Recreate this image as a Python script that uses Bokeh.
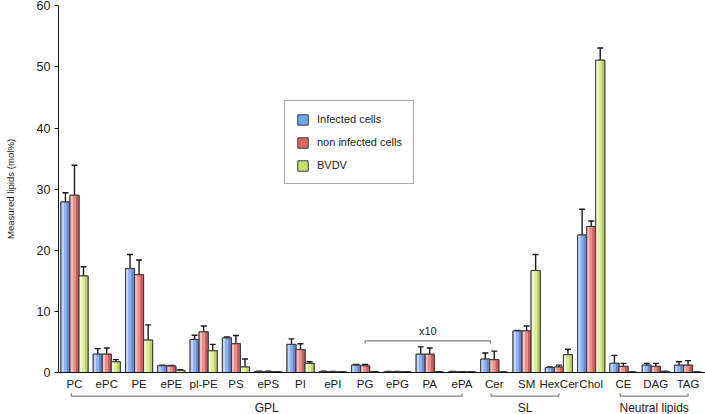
from bokeh.plotting import figure
from bokeh.models import (Range1d, FixedTicker, Whisker, TeeHead, ColumnDataSource,
                          Legend, LegendItem)
from bokeh.layouts import column
from bokeh.embed import file_html
from bokeh.resources import INLINE
from bokeh.core.properties import value

# ---------------- data ----------------
categories = ["PC", "ePC", "PE", "ePE", "pl-PE", "PS", "ePS", "PI", "ePI", "PG",
              "ePG", "PA", "ePA", "Cer", "SM", "HexCer", "Chol", "CE", "DAG", "TAG"]
infected = [27.9, 3.0, 17.0, 1.1, 5.4, 5.65, 0.15, 4.6, 0.15, 1.2,
            0.12, 3.0, 0.12, 2.2, 6.8, 0.8, 22.5, 1.5, 1.2, 1.2]
infected_err = [1.5, 0.9, 2.3, 0.1, 0.7, 0.15, 0.05, 0.9, 0.05, 0.1,
                0.05, 1.2, 0.05, 1.0, 0.1, 0.1, 4.2, 1.3, 0.3, 0.55]
non_infected = [29.0, 3.0, 16.0, 1.05, 6.65, 4.7, 0.15, 3.75, 0.12, 1.1,
                0.12, 3.0, 0.1, 2.1, 6.8, 0.9, 23.9, 1.0, 1.0, 1.2]
non_infected_err = [4.9, 1.0, 2.4, 0.1, 0.95, 1.35, 0.05, 0.95, 0.05, 0.2,
                    0.05, 1.0, 0.05, 1.4, 0.8, 0.3, 0.9, 0.5, 0.5, 0.75]
bvdv = [15.8, 1.75, 5.3, 0.35, 3.55, 0.9, 0.1, 1.5, 0.1, 0.1,
        0.1, 0.1, 0.1, 0.05, 16.7, 2.9, 51.1, 0.05, 0.15, 0.05]
bvdv_err = [1.5, 0.35, 2.5, 0.1, 1.05, 1.3, 0.03, 0.25, 0.03, 0.03,
            0.03, 0.03, 0.03, 0.02, 2.6, 0.9, 2.0, 0.02, 0.05, 0.02]
series_names = ["Infected cells", "non infected cells", "BVDV"]
y_ticks = [0, 10, 20, 30, 40, 50, 60]
groups = [("GPL", "PC", "ePA"), ("SL", "Cer", "HexCer"), ("Neutral lipids", "CE", "TAG")]
x10_span = ("PG", "Cer")
x10_label = "x10"
y_title = "Measured lipids (mol%)"

# ---------------- style ----------------
FONT = "Liberation Sans"
TXT = "#1a1a1a"
legend_colors = ["#6da7ee", "#e26464", "#c3df6c"]
strip_colors = [["#c3d5f6", "#92b1ea", "#6389d6"],
                ["#f5bcbc", "#e58f8f", "#cc5a5a"],
                ["#f3f9cc", "#dcee9c", "#b9d266"]]
OUTLINE = "#3a3a3a"
BW = 0.28

values = [infected, non_infected, bvdv]
errors = [infected_err, non_infected_err, bvdv_err]
idx = list(range(len(categories)))
xr = Range1d(-0.495, 19.54)

p = figure(width=705, height=392, x_range=xr, y_range=Range1d(0, 60.05),
           min_border_left=58, min_border_right=0, min_border_top=5, min_border_bottom=20,
           toolbar_location=None, output_backend="svg")
p.grid.visible = False
p.outline_line_color = None

# y axis
p.yaxis.ticker = FixedTicker(ticks=y_ticks)
p.yaxis.minor_tick_line_color = None
p.yaxis.major_tick_out = 4
p.yaxis.major_tick_in = 0
p.yaxis.major_label_standoff = 4
p.yaxis.axis_line_color = "#111111"
p.yaxis.major_tick_line_color = "#111111"
p.yaxis.major_label_text_font = FONT
p.yaxis.major_label_text_font_size = "12.5px"
p.yaxis.major_label_text_color = TXT
p.yaxis.axis_label = y_title
p.yaxis.axis_label_text_font = FONT
p.yaxis.axis_label_text_font_size = "9.6px"
p.yaxis.axis_label_text_font_style = "normal"
p.yaxis.axis_label_text_color = TXT
p.yaxis.axis_label_standoff = 18

# x axis
p.xaxis.ticker = FixedTicker(ticks=idx)
p.xaxis.major_label_overrides = {i: c for i, c in zip(idx, categories)}
p.xaxis.major_tick_out = 0
p.xaxis.major_tick_in = 0
p.xaxis.minor_tick_line_color = None
p.xaxis.major_label_standoff = 5
p.xaxis.axis_line_color = "#111111"
p.xaxis.major_label_text_font = FONT
p.xaxis.major_label_text_font_size = "11.5px"
p.xaxis.major_label_text_color = TXT

legend_items = []
offsets = [-BW, 0.0, BW]
for k in range(3):
    xs = [i + offsets[k] for i in idx]
    src = ColumnDataSource(dict(x=xs, top=values[k],
                                upper=[v + e for v, e in zip(values[k], errors[k])]))
    main = p.vbar(x="x", top="top", bottom=0, width=BW, source=src,
                  fill_color=legend_colors[k], line_color=OUTLINE, line_width=1)
    legend_items.append(LegendItem(label=series_names[k], renderers=[main]))
    for s in range(3):
        ssrc = ColumnDataSource(dict(x=[x + (s - 1) * BW / 3 for x in xs], top=values[k]))
        p.vbar(x="x", top="top", bottom=0, width=BW / 3 + 0.004, source=ssrc,
               fill_color=strip_colors[k][s], line_color=None)
    p.vbar(x="x", top="top", bottom=0, width=BW, source=src,
           fill_color=None, line_color=OUTLINE, line_width=1)
    w = Whisker(source=src, base="x", upper="upper", lower="top", dimension="height",
                line_color=TXT, line_width=1.4,
                upper_head=TeeHead(size=6, line_color=TXT, line_width=1.4),
                lower_head=None)
    p.add_layout(w)

# x10 bracket
a = categories.index(x10_span[0])
b = categories.index(x10_span[1]) - 0.12
p.multi_line(xs=[[a, a, b, b]], ys=[[4.74, 5.17, 5.17, 4.74]], line_color="#808080", line_width=1.2)
p.text(x=[(a + b) / 2], y=[6.76], text=[x10_label], text_font=value(FONT),
       text_font_size="11px", text_align="center", text_baseline="middle", text_color=TXT)

legend = Legend(items=legend_items, location=(226, 188), margin=0, padding=11, spacing=9,
                glyph_width=13, glyph_height=13, label_height=14, label_standoff=8,
                label_text_font=FONT, label_text_font_size="11px", label_text_color=TXT,
                border_line_color="#555555", border_line_width=1, background_fill_color="white",
                background_fill_alpha=1)
p.add_layout(legend, "center")

# group brackets below the axis, in a strip sharing the x range (y in pixels from bottom)
q = figure(width=705, height=22, x_range=xr, y_range=Range1d(0, 22),
           min_border_left=58, min_border_right=0, min_border_top=0, min_border_bottom=0,
           x_axis_location=None, y_axis_location=None,
           toolbar_location=None, output_backend="svg")
q.grid.visible = False
q.outline_line_color = None
gx, gy, lx, lt = [], [], [], []
for name, c0, c1 in groups:
    s0 = categories.index(c0) - 0.1
    s1 = categories.index(c1) + 0.0
    gx.append([s0, s0, s1, s1])
    gy.append([21.3, 18.3, 18.3, 21.3])
    lx.append((s0 + s1) / 2)
    lt.append(name)
q.multi_line(xs=gx, ys=gy, line_color="#808080", line_width=1.2)
q.text(x=lx, y=[6.5] * len(lx), text=lt, text_font=value(FONT), text_font_size="12px",
       text_align="center", text_baseline="middle", text_color=TXT)

layout = column(p, q, spacing=0)
open("out.html", "w").write(file_html(layout, INLINE))
